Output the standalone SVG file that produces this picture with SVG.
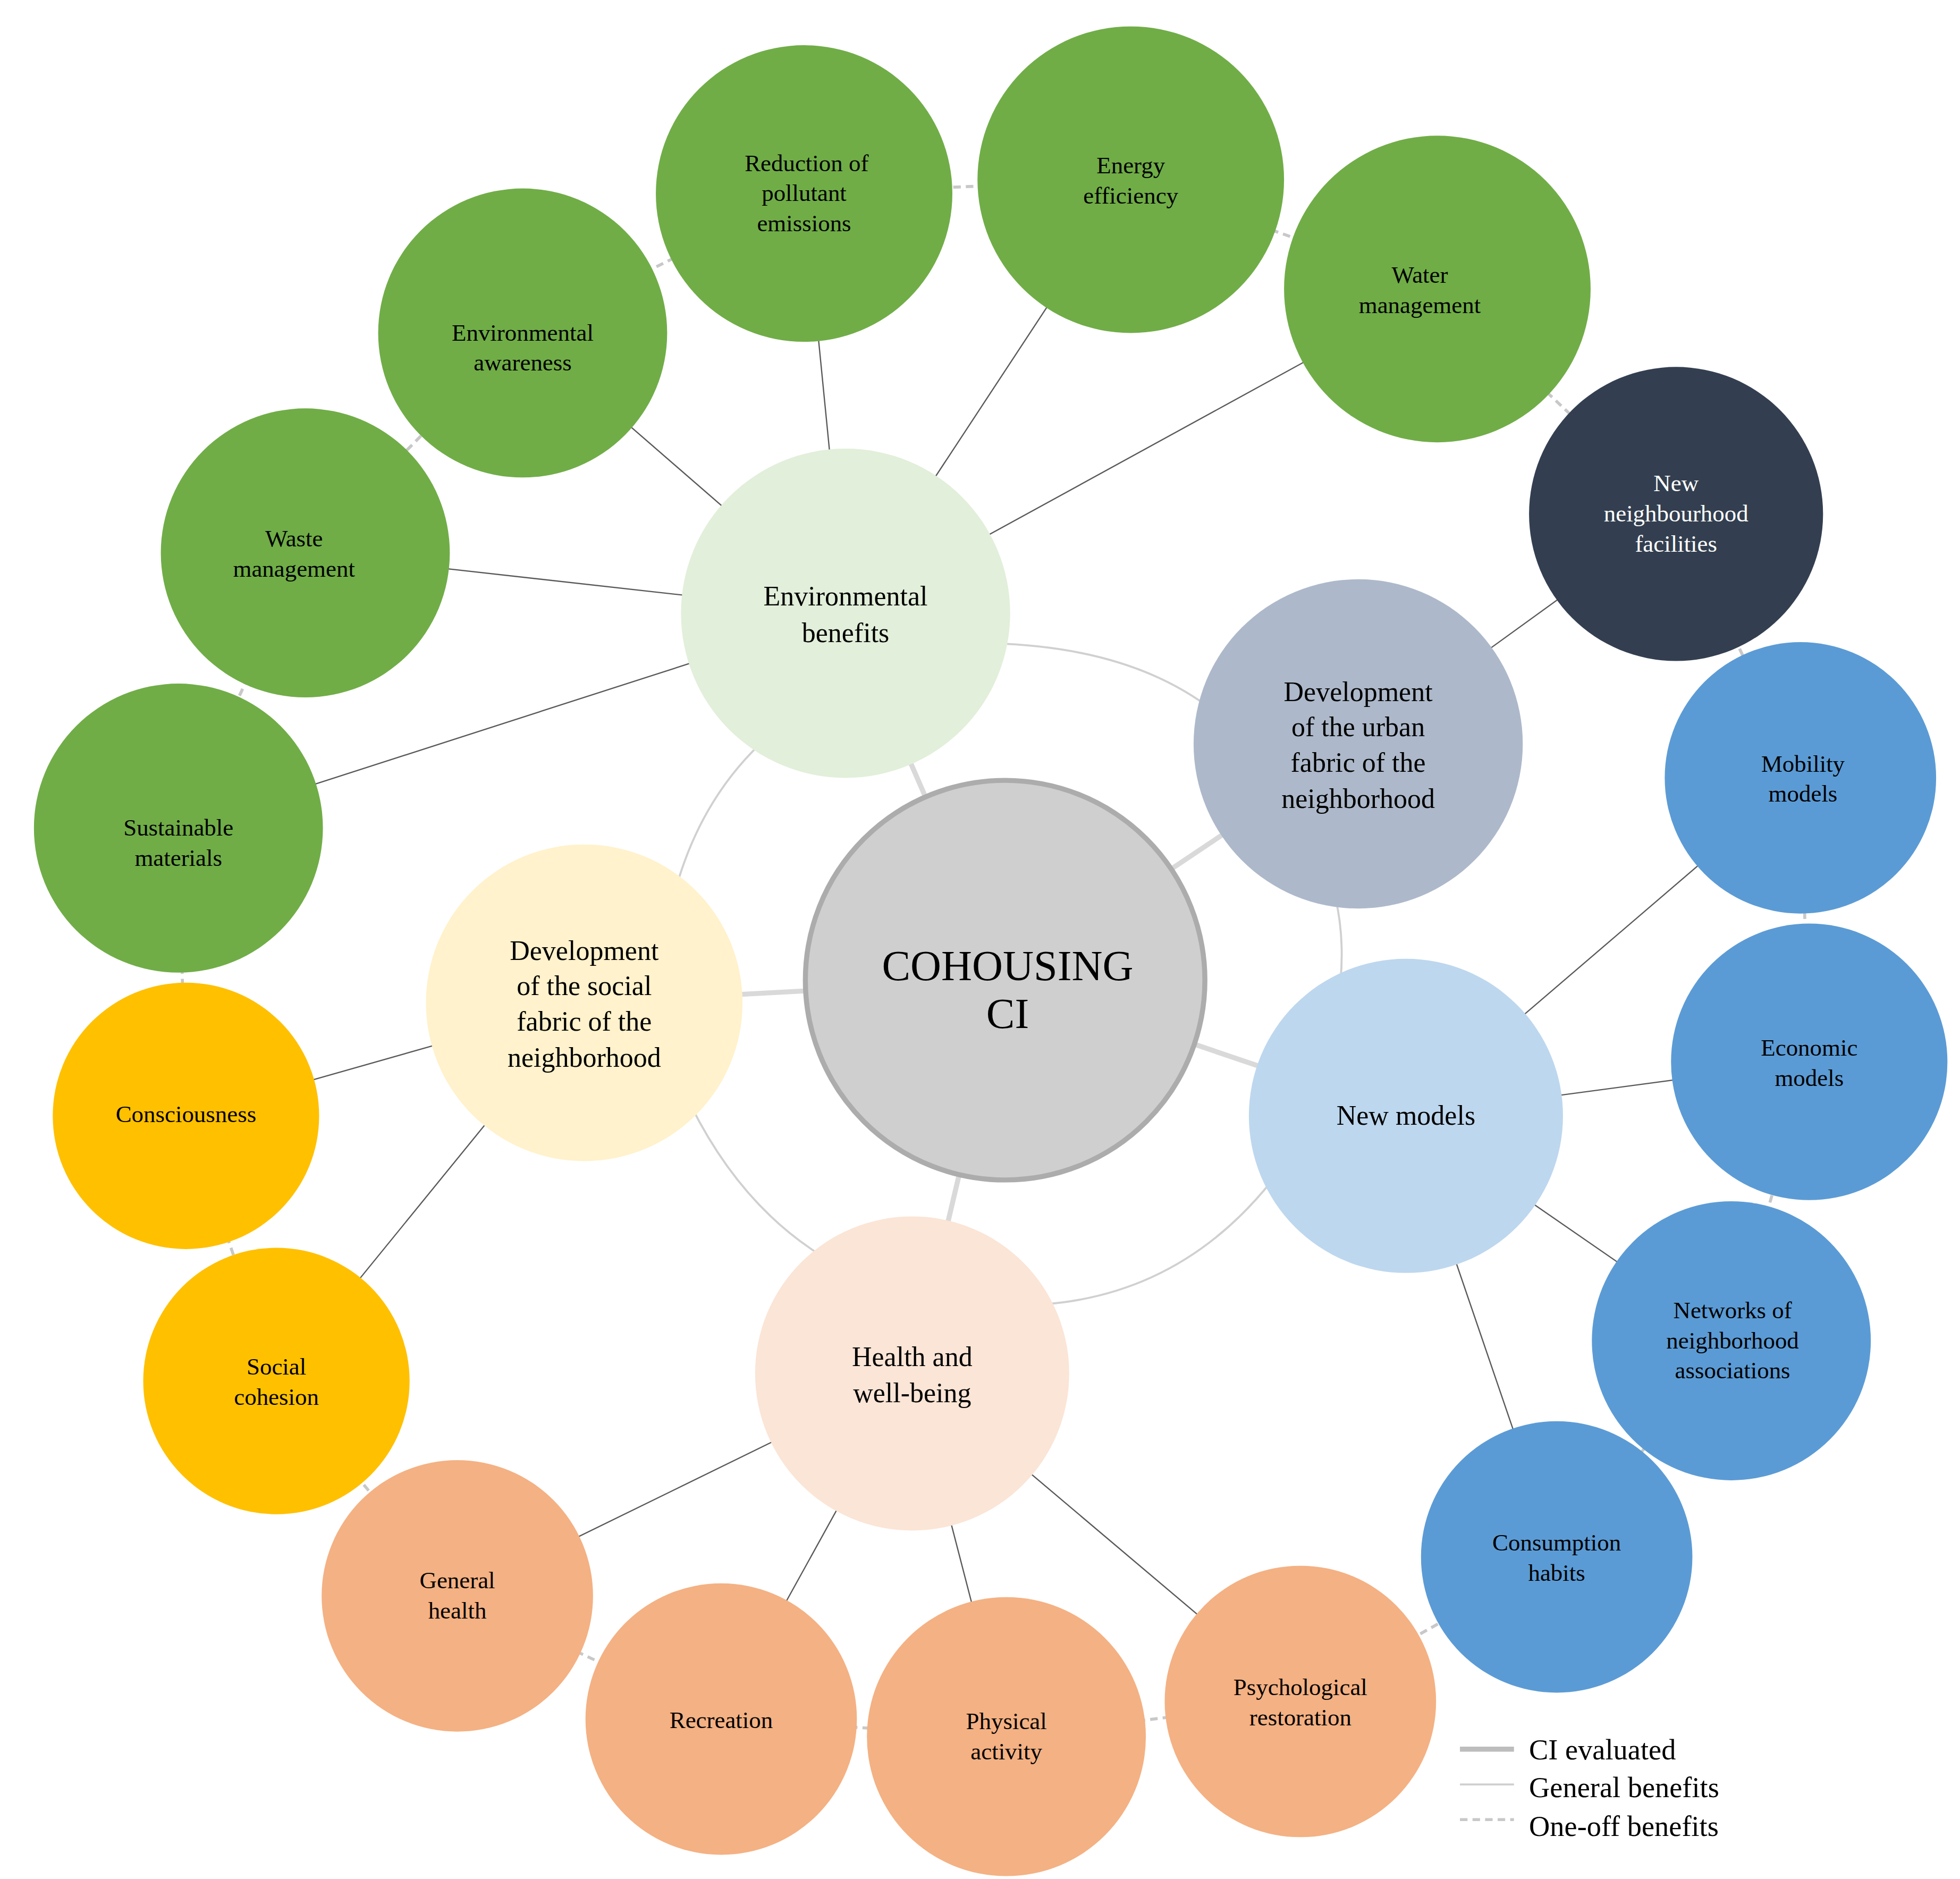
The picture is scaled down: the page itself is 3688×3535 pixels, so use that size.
<svg xmlns="http://www.w3.org/2000/svg" width="3688" height="3535" viewBox="0 0 3688 3535">
<style>
text{font-family:"Liberation Serif","DejaVu Serif",serif;text-anchor:middle;fill:#000}
.leaf{font-size:19px}
.mid{font-size:22px}
.w{fill:#fff}
.ci{stroke:#d9d9d9;stroke-width:4;fill:none}
.gen{stroke:#d0d0d0;stroke-width:1.6;fill:none}
.sp{stroke:#595959;stroke-width:1;fill:none}
.one{stroke:#c8c8c8;stroke-width:2.4;stroke-dasharray:6,4;fill:none}
.g{fill:#70ad47}.b{fill:#5b9bd5}.o{fill:#f4b183}.y{fill:#ffc000}.d{fill:#333f50}
</style>
<rect width="3688" height="3535" fill="#fff"/>
<g transform="scale(2.3641)">
<g id="connectors">
<path class="one" d="M142,659 L148,888 L220,1099 L364,1270 L574,1368 L801,1382 L1035,1354 L1239,1239 L1378,1067 L1440,845 L1433,619 L1334,409 L1144,230 L900,143 L640,154 L416,265 L243,440 L142,659"/>
<path class="ci" d="M800,780 L673,488 M800,780 L1081,592 M800,780 L1119,888 M800,780 L726,1093 M800,780 L465,798"/>
<path class="gen" d="M790,512 Q900,515 965,565 M1063,715 Q1070,745 1067,780 M1012,940 Q940,1030 830,1038 M655,1000 Q590,960 550,880 M540,700 Q560,635 605,592"/>
<path class="sp" d="M673,488 L640,154 M673,488 L900,143 M673,488 L1144,230 M673,488 L416,265 M673,488 L243,440 M673,488 L142,659 M1081,592 L1334,409 M1119,888 L1433,619 M1119,888 L1440,845 M1119,888 L1378,1067 M1119,888 L1239,1239 M726,1093 L1035,1354 M726,1093 L801,1382 M726,1093 L574,1368 M726,1093 L364,1270 M465,798 L220,1099 M465,798 L148,888"/>
</g>
<g id="n-ci"><circle cx="800" cy="780" r="159" fill="#d0cfd0" stroke="#acacac" stroke-width="4"/><text x="802" y="780" font-size="34">COHOUSING</text><text x="802" y="818" font-size="34">CI</text></g>
<g id="n-env"><circle cx="673" cy="488" r="131" fill="#e2efda"/><text class="mid" x="673" y="482">Environmental</text><text class="mid" x="673" y="511">benefits</text></g>
<g id="n-urban"><circle cx="1081" cy="592" r="131" fill="#adb9ca"/><text class="mid" x="1081" y="558">Development</text><text class="mid" x="1081" y="586">of the urban</text><text class="mid" x="1081" y="614">fabric of the</text><text class="mid" x="1081" y="643">neighborhood</text></g>
<g id="n-new"><circle cx="1119" cy="888" r="125" fill="#bdd7ee"/><text class="mid" x="1119" y="895">New  models</text></g>
<g id="n-health"><circle cx="726" cy="1093" r="125" fill="#fbe5d6"/><text class="mid" x="726" y="1087">Health and</text><text class="mid" x="726" y="1116">well-being</text></g>
<g id="n-social"><circle cx="465" cy="798" r="126" fill="#fff2cc"/><text class="mid" x="465" y="764">Development</text><text class="mid" x="465" y="792">of the social</text><text class="mid" x="465" y="820">fabric of the</text><text class="mid" x="465" y="849">neighborhood</text></g>
<g id="n-red"><circle class="g" cx="640" cy="154" r="118"/><text class="leaf" x="642" y="136">Reduction of</text><text class="leaf" x="640" y="160">pollutant</text><text class="leaf" x="640" y="184">emissions</text></g>
<g id="n-energy"><circle class="g" cx="900" cy="143" r="122"/><text class="leaf" x="900" y="138">Energy</text><text class="leaf" x="900" y="162">efficiency</text></g>
<g id="n-water"><circle class="g" cx="1144" cy="230" r="122"/><text class="leaf" x="1130" y="225">Water</text><text class="leaf" x="1130" y="249">management</text></g>
<g id="n-aware"><circle class="g" cx="416" cy="265" r="115"/><text class="leaf" x="416" y="271">Environmental</text><text class="leaf" x="416" y="295">awareness</text></g>
<g id="n-waste"><circle class="g" cx="243" cy="440" r="115"/><text class="leaf" x="234" y="435">Waste</text><text class="leaf" x="234" y="459">management</text></g>
<g id="n-sust"><circle class="g" cx="142" cy="659" r="115"/><text class="leaf" x="142" y="665">Sustainable</text><text class="leaf" x="142" y="689">materials</text></g>
<g id="n-fac"><circle class="d" cx="1334" cy="409" r="117"/><text class="leaf w" x="1334" y="391">New</text><text class="leaf w" x="1334" y="415">neighbourhood</text><text class="leaf w" x="1334" y="439">facilities</text></g>
<g id="n-mob"><circle class="b" cx="1433" cy="619" r="108"/><text class="leaf" x="1435" y="614">Mobility</text><text class="leaf" x="1435" y="638">models</text></g>
<g id="n-eco"><circle class="b" cx="1440" cy="845" r="110"/><text class="leaf" x="1440" y="840">Economic</text><text class="leaf" x="1440" y="864">models</text></g>
<g id="n-net"><circle class="b" cx="1378" cy="1067" r="111"/><text class="leaf" x="1379" y="1049">Networks of</text><text class="leaf" x="1379" y="1073">neighborhood</text><text class="leaf" x="1379" y="1097">associations</text></g>
<g id="n-cons"><circle class="b" cx="1239" cy="1239" r="108"/><text class="leaf" x="1239" y="1234">Consumption</text><text class="leaf" x="1239" y="1258">habits</text></g>
<g id="n-psy"><circle class="o" cx="1035" cy="1354" r="108"/><text class="leaf" x="1035" y="1349">Psychological</text><text class="leaf" x="1035" y="1373">restoration</text></g>
<g id="n-phys"><circle class="o" cx="801" cy="1382" r="111"/><text class="leaf" x="801" y="1376">Physical</text><text class="leaf" x="801" y="1400">activity</text></g>
<g id="n-rec"><circle class="o" cx="574" cy="1368" r="108"/><text class="leaf" x="574" y="1375">Recreation</text></g>
<g id="n-gen"><circle class="o" cx="364" cy="1270" r="108"/><text class="leaf" x="364" y="1264">General</text><text class="leaf" x="364" y="1288">health</text></g>
<g id="n-soc"><circle class="y" cx="220" cy="1099" r="106"/><text class="leaf" x="220" y="1094">Social</text><text class="leaf" x="220" y="1118">cohesion</text></g>
<g id="n-consc"><circle class="y" cx="148" cy="888" r="106"/><text class="leaf" x="148" y="893" font-size="17">Consciousness</text></g>
<g id="legend">
<line x1="1162" y1="1392" x2="1205" y2="1392" stroke="#bdbdbd" stroke-width="4"/>
<line x1="1162" y1="1420" x2="1205" y2="1420" stroke="#d0d0d0" stroke-width="1.6"/>
<line class="one" x1="1162" y1="1448" x2="1205" y2="1448"/>
<text x="1217" y="1400" font-size="23" style="text-anchor:start">CI evaluated</text>
<text x="1217" y="1430" font-size="23" style="text-anchor:start">General benefits</text>
<text x="1217" y="1461" font-size="23" style="text-anchor:start">One-off benefits</text>
</g>
</g>
</svg>
